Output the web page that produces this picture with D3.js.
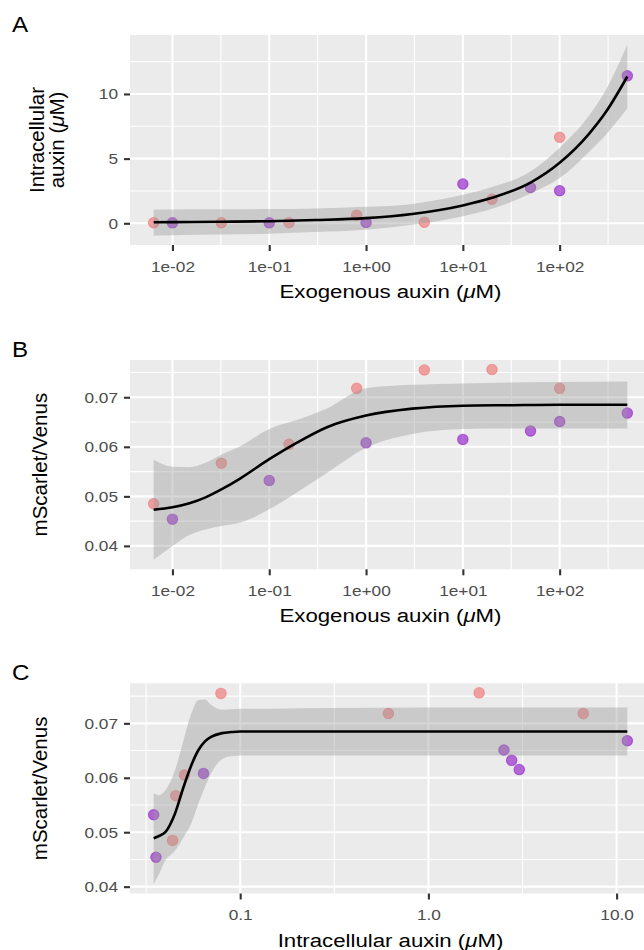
<!DOCTYPE html>
<html>
<head>
<meta charset="utf-8">
<script src="https://cdn.jsdelivr.net/npm/d3@7"></script>
<style>
  body { margin: 0; background: #fff; }
  text { font-family: "Liberation Sans", Arial, Helvetica, sans-serif; }
</style>
</head>
<body>
<svg id="fig" width="644" height="950"></svg>
<script>
// ---- measurements (one entry per sample) ----
var group = ["pink","pink","pink","pink","pink","pink","pink",
             "purple","purple","purple","purple","purple","purple","purple"];
var exogenous = [0.0064, 0.032, 0.16, 0.8, 4, 20, 100,
                 0.01, 0.1, 1, 10, 50, 100, 500];
var intracellular = [0.0437, 0.0455, 0.0506, 0.613, 0.079, 1.86, 6.65,
                     0.0357, 0.0347, 0.0638, 3.04, 2.77, 2.52, 11.4];
var ratio = [0.0485, 0.0567, 0.0605, 0.0718, 0.0755, 0.0756, 0.0718,
             0.0454, 0.0532, 0.0608, 0.0615, 0.0632, 0.0651, 0.0668];

// ---- fitted curves (x, fit, lower, upper) ----
var fitA_x  = [0.0064, 0.01, 0.03, 0.1, 0.3, 1, 3, 10, 20, 50, 100, 200, 300, 500];
var fitA_y  = [0.08, 0.09, 0.12, 0.16, 0.25, 0.4, 0.72, 1.38, 1.97, 3.15, 4.68, 6.9, 8.6, 11.35];
var fitA_lo = [-0.94, -0.92, -0.87, -0.8, -0.68, -0.5, -0.12, 0.55, 1.12, 2.3, 3.5, 5.5, 6.85, 8.9];
var fitA_hi = [1.06, 1.07, 1.08, 1.1, 1.15, 1.27, 1.5, 2.2, 2.8, 4.0, 5.85, 8.3, 10.3, 13.82];

var fitB_x  = [0.0064, 0.01, 0.015, 0.022, 0.032, 0.05, 0.1, 0.2, 0.4, 1, 3, 10, 30, 100, 500];
var fitB_y  = [0.0473, 0.0478, 0.0486, 0.0498, 0.0514, 0.0536, 0.0575, 0.0610, 0.0640, 0.0663, 0.0677, 0.0683, 0.0684, 0.0685, 0.0685];
var fitB_lo = [0.0372, 0.0400, 0.0422, 0.0433, 0.0440, 0.0447, 0.0474, 0.0510, 0.0548, 0.0598, 0.0626, 0.0636, 0.0637, 0.0637, 0.0637];
var fitB_hi = [0.0574, 0.0560, 0.0559, 0.0568, 0.0584, 0.0601, 0.0636, 0.0655, 0.0678, 0.0718, 0.0725, 0.0728, 0.0730, 0.0731, 0.0732];

var fitC_x  = [0.0347, 0.037, 0.04, 0.045, 0.05, 0.055, 0.06, 0.065, 0.07, 0.08, 0.09, 0.1, 0.15, 0.3, 1, 3, 11.4];
var fitC_y  = [0.0489, 0.0493, 0.0500, 0.0534, 0.0583, 0.0623, 0.0651, 0.0667, 0.0675, 0.0682, 0.0684, 0.0685, 0.0685, 0.0685, 0.0685, 0.0685, 0.0685];
var fitC_lo = [0.0405, 0.0423, 0.0448, 0.0466, 0.0491, 0.0516, 0.0553, 0.0583, 0.0608, 0.0634, 0.0640, 0.0641, 0.0641, 0.0641, 0.0641, 0.0641, 0.0641];
var fitC_hi = [0.0572, 0.0568, 0.0577, 0.0614, 0.0669, 0.0718, 0.0743, 0.0744, 0.0734, 0.0725, 0.0726, 0.0727, 0.0727, 0.0728, 0.0729, 0.0729, 0.0729];

// ---- tick labels ----
var exoTicks = [0.01, 0.1, 1, 10, 100];
var intraTicks = [0.1, 1, 10];
var intraYTicks = [0, 5, 10];
var ratioTicks = [0.04, 0.05, 0.06, 0.07];

var colors = {"pink": "#F08080", "purple": "#9932CC"};

var svg = d3.select("#fig");
var panelLeft = 130, panelRight = 651;
var tickLen = 6, stretch = 1.15;

function logDomain(vals) {
  var e = d3.extent(vals.map(Math.log10)), pad = (e[1] - e[0]) * 0.05;
  return [Math.pow(10, e[0] - pad), Math.pow(10, e[1] + pad)];
}
function linDomain(vals) {
  var e = d3.extent(vals), pad = (e[1] - e[0]) * 0.05;
  return [e[0] - pad, e[1] + pad];
}
function sciFormat(v) {
  var p = Math.round(Math.log10(v));
  return "1e" + (p < 0 ? "-" : "+") + String(Math.abs(p)).padStart(2, "0");
}

function drawPanel(cfg) {
  var g = svg.append("g").attr("id", cfg.id);

  var x = d3.scaleLog().domain(logDomain(cfg.px)).range([panelLeft, panelRight]);
  var y = d3.scaleLinear()
    .domain(linDomain(cfg.py.concat(cfg.lo, cfg.hi)))
    .range([cfg.bottom, cfg.top]);

  var xd = x.domain().map(Math.log10), yd = y.domain();

  // panel background
  g.append("rect")
    .attr("x", panelLeft).attr("y", cfg.top)
    .attr("width", panelRight - panelLeft).attr("height", cfg.bottom - cfg.top)
    .attr("fill", "#EBEBEB");

  // minor grid: half-decades in x, half-steps in y
  var xMinor = d3.range(Math.floor(xd[0]) - 0.5, xd[1] + 1, 1)
    .filter(d => d > xd[0] && d < xd[1]).map(d => Math.pow(10, d));
  var step = cfg.yTicks[1] - cfg.yTicks[0];
  var yMinor = d3.range(cfg.yTicks[0] - step / 2, yd[1] + step, step)
    .filter(d => d > yd[0] && d < yd[1]);
  var xMajor = d3.range(Math.ceil(xd[0]), xd[1], 1).map(d => Math.pow(10, d));

  var grid = g.append("g").attr("stroke", "#fff").attr("fill", "none");
  grid.selectAll(".xmin").data(xMinor).enter().append("line")
    .attr("x1", d => x(d)).attr("x2", d => x(d))
    .attr("y1", cfg.top).attr("y2", cfg.bottom).attr("stroke-width", 1.1);
  grid.selectAll(".ymin").data(yMinor).enter().append("line")
    .attr("y1", d => y(d)).attr("y2", d => y(d))
    .attr("x1", panelLeft).attr("x2", panelRight).attr("stroke-width", 1.1);
  grid.selectAll(".xmaj").data(xMajor).enter().append("line")
    .attr("x1", d => x(d)).attr("x2", d => x(d))
    .attr("y1", cfg.top).attr("y2", cfg.bottom).attr("stroke-width", 2.1);
  grid.selectAll(".ymaj").data(cfg.yTicks).enter().append("line")
    .attr("y1", d => y(d)).attr("y2", d => y(d))
    .attr("x1", panelLeft).attr("x2", panelRight).attr("stroke-width", 2.1);

  // points (drawn under the ribbon, as in the original)
  g.append("g").selectAll("circle")
    .data(d3.range(cfg.px.length))
   .enter().append("circle")
    .attr("cx", i => x(cfg.px[i]))
    .attr("cy", i => y(cfg.py[i]))
    .attr("r", 5.2)
    .attr("fill", i => colors[group[i]])
    .attr("fill-opacity", 0.72)
    .attr("stroke", i => colors[group[i]])
    .attr("stroke-opacity", 0.72)
    .attr("stroke-width", 1.1);

  // confidence ribbon + fit
  var idx = d3.range(cfg.fx.length);
  var band = d3.area()
    .x(i => x(cfg.fx[i])).y0(i => y(cfg.lo[i])).y1(i => y(cfg.hi[i]))
    .curve(d3.curveMonotoneX);
  var line = d3.line()
    .x(i => x(cfg.fx[i])).y(i => y(cfg.fy[i]))
    .curve(d3.curveMonotoneX);
  g.append("path").attr("d", band(idx))
    .attr("fill", "#999999").attr("fill-opacity", 0.4);
  g.append("path").attr("d", line(idx))
    .attr("fill", "none").attr("stroke", "#000").attr("stroke-width", 2.6);

  // axes
  var xAxis = g.append("g")
    .attr("transform", "translate(0," + cfg.bottom + ")")
    .call(d3.axisBottom(x).tickValues(cfg.xTicks).tickFormat(cfg.xFormat)
      .tickSize(tickLen).tickSizeOuter(0).tickPadding(10));
  var yAxis = g.append("g")
    .attr("transform", "translate(" + panelLeft + ",0)")
    .call(d3.axisLeft(y).tickValues(cfg.yTicks).tickFormat(cfg.yFormat)
      .tickSize(tickLen).tickSizeOuter(0).tickPadding(6));
  [xAxis, yAxis].forEach(function(a) {
    a.select(".domain").remove();
    a.selectAll(".tick line").attr("stroke", "#333333").attr("stroke-width", 2.1);
    a.selectAll(".tick text")
      .attr("fill", "#4D4D4D")
      .style("font-size", "15px")
      .style("font-family", "'Liberation Sans', Arial, sans-serif");
  });
  xAxis.selectAll(".tick text").attr("transform", "scale(" + stretch + ",1)");
  yAxis.selectAll(".tick text")
    .attr("x", -(tickLen + 6) / stretch)
    .attr("transform", "scale(" + stretch + ",1)");

  // tag
  g.append("text")
    .attr("transform", "translate(12," + (cfg.top - 3) + ") scale(1.1,1)")
    .style("font-size", "22px")
    .text(cfg.tag);

  // x title
  var xt = g.append("text")
    .attr("transform", "translate(" + ((panelLeft + panelRight) / 2) + "," + (cfg.bottom + 53) + ") scale(1.17,1)")
    .attr("text-anchor", "middle")
    .style("font-size", "19px");
  xt.append("tspan").text(cfg.xTitle + " (");
  xt.append("tspan").style("font-style", "italic").text("\u03bc");
  xt.append("tspan").text("M)");

  // y title (one or more lines)
  var cy = (cfg.top + cfg.bottom) / 2;
  cfg.yTitle.forEach(function(lineText, k) {
    var t = g.append("text")
      .attr("transform", "translate(" + cfg.yTitleX[k] + "," + cy + ") rotate(-90)")
      .attr("text-anchor", "middle")
      .style("font-size", "20.5px");
    var parts = lineText.split("\u03bc");
    t.append("tspan").text(parts[0]);
    if (parts.length > 1) {
      t.append("tspan").style("font-style", "italic").text("\u03bc");
      t.append("tspan").text(parts[1]);
    }
  });
}

drawPanel({
  id: "panelA", tag: "A", top: 35, bottom: 245,
  px: exogenous, py: intracellular,
  fx: fitA_x, fy: fitA_y, lo: fitA_lo, hi: fitA_hi,
  xTicks: exoTicks, xFormat: sciFormat,
  yTicks: intraYTicks, yFormat: d3.format("d"),
  xTitle: "Exogenous auxin",
  yTitle: ["Intracellular", "auxin (\u03bcM)"], yTitleX: [44, 64]
});

drawPanel({
  id: "panelB", tag: "B", top: 360, bottom: 569.3,
  px: exogenous, py: ratio,
  fx: fitB_x, fy: fitB_y, lo: fitB_lo, hi: fitB_hi,
  xTicks: exoTicks, xFormat: sciFormat,
  yTicks: ratioTicks, yFormat: d3.format(".2f"),
  xTitle: "Exogenous auxin",
  yTitle: ["mScarlet/Venus"], yTitleX: [47]
});

drawPanel({
  id: "panelC", tag: "C", top: 683.3, bottom: 893.5,
  px: intracellular, py: ratio,
  fx: fitC_x, fy: fitC_y, lo: fitC_lo, hi: fitC_hi,
  xTicks: intraTicks, xFormat: d3.format(".1f"),
  yTicks: ratioTicks, yFormat: d3.format(".2f"),
  xTitle: "Intracellular auxin",
  yTitle: ["mScarlet/Venus"], yTitleX: [47]
});
</script>
</body>
</html>
